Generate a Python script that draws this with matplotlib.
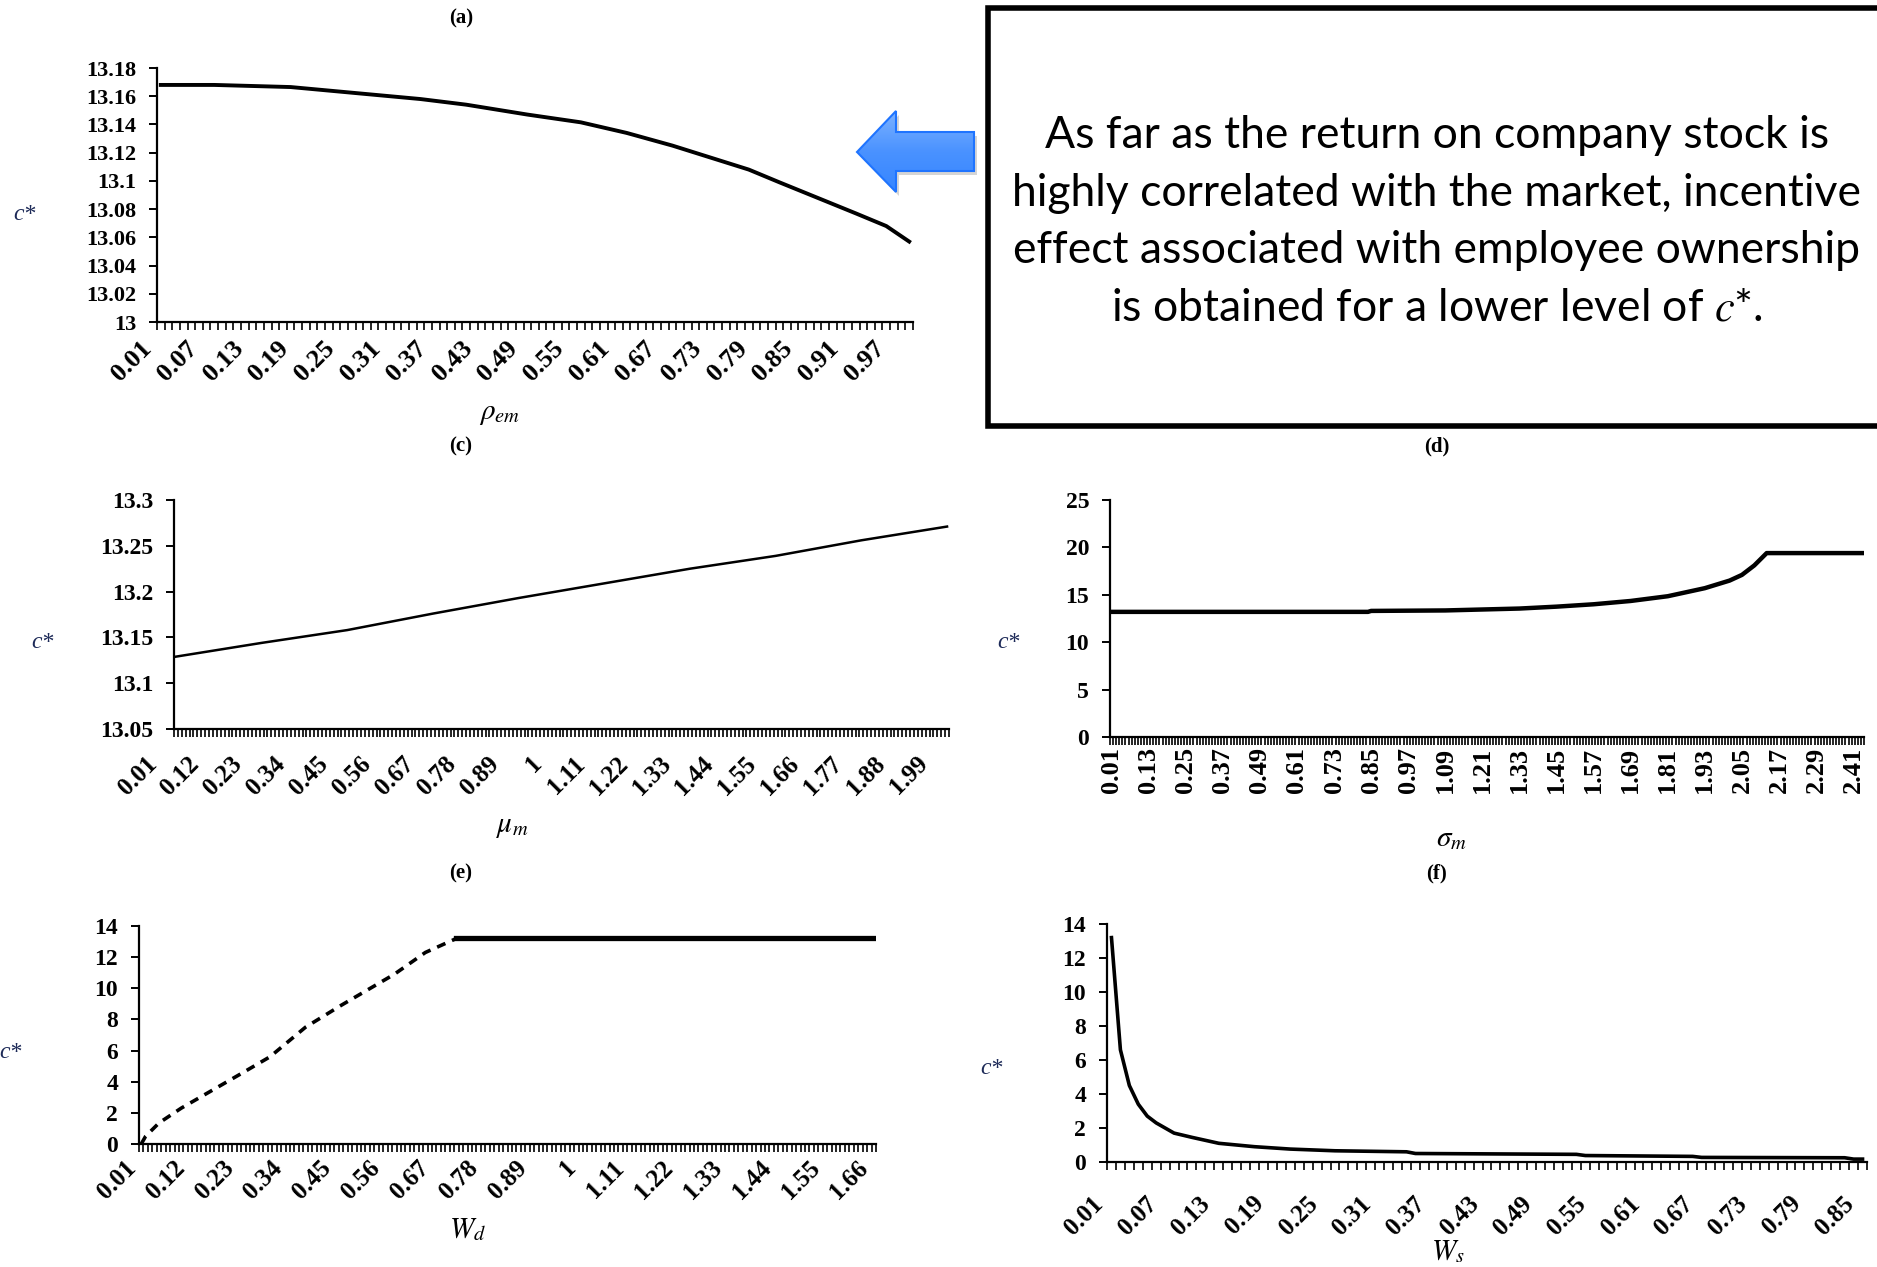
import numpy as np
import matplotlib
matplotlib.use('Agg')
import matplotlib.pyplot as plt
import matplotlib.transforms as mtransforms
from matplotlib.patches import Polygon, Rectangle
from matplotlib.colors import LinearSegmentedColormap

W, H = 1877, 1267

# ── data ─────────────────────────────────────────────────────────────────────
# (a) c* against rho_em
rho_cats = np.round(np.arange(1, 100) * 0.01, 2)
rho_pts = [0.01, 0.08, 0.18, 0.27, 0.35, 0.41, 0.49, 0.56, 0.62, 0.68, 0.73,
           0.78, 0.82, 0.87, 0.92, 0.96, 0.99]
rho_c = [13.168, 13.168, 13.1665, 13.162, 13.158, 13.154, 13.147, 13.1415,
         13.134, 13.125, 13.1165, 13.108, 13.099, 13.088, 13.077, 13.068, 13.057]

# (c) c* against mu_m
mu_cats = np.round(np.arange(1, 200) * 0.01, 2)
mu_pts = [0.01, 0.23, 0.45, 0.67, 0.89, 1.00, 1.33, 1.55, 1.77, 1.99]
mu_c = [13.129, 13.144, 13.158, 13.176, 13.193, 13.201, 13.225, 13.239, 13.256, 13.271]

# (d) c* against sigma_m
sig_cats = np.round(np.arange(1, 245) * 0.01, 2)
sig_pts = [0.01, 0.84, 0.85, 1.09, 1.21, 1.33, 1.45, 1.57, 1.69, 1.81, 1.93,
           2.01, 2.05, 2.09, 2.13, 2.44]
sig_c = [13.2, 13.2, 13.3, 13.35, 13.45, 13.55, 13.75, 14.0, 14.35, 14.85, 15.7,
         16.5, 17.1, 18.1, 19.4, 19.4]

# (e) c* against W_d  (dashed part, then flat part)
wd_cats = np.round(np.arange(1, 167) * 0.01, 2)
wd_pts_dash = [0.01, 0.02, 0.05, 0.10, 0.24, 0.30, 0.38, 0.46, 0.52, 0.58, 0.65, 0.72]
wd_c_dash = [0.0, 0.5, 1.35, 2.3, 4.6, 5.6, 7.5, 8.9, 9.9, 10.9, 12.3, 13.2]
wd_pts_flat = [0.72, 1.66]
wd_c_flat = [13.2, 13.2]

# (f) c* against W_s
ws_cats = np.round(np.arange(1, 86) * 0.01, 2)
ws_pts = [0.01, 0.02, 0.03, 0.04, 0.05, 0.06, 0.08, 0.10, 0.13, 0.17, 0.21,
          0.26, 0.34, 0.35, 0.53, 0.54, 0.66, 0.67, 0.83, 0.84, 0.85]
ws_c = [13.2, 6.6, 4.5, 3.4, 2.7, 2.3, 1.7, 1.45, 1.1, 0.9, 0.76,
        0.66, 0.6, 0.5, 0.45, 0.38, 0.33, 0.27, 0.25, 0.17, 0.17]

plt.rcParams['mathtext.fontset'] = 'stix'
SERIF = 'Liberation Serif'

fig = plt.figure(figsize=(W / 100, H / 100), dpi=100)
fig.patch.set_facecolor('white')


def idx(cats, pts):
    return np.rint((np.asarray(pts) - cats[0]) / 0.01)


def panel(box, cats, ylim, yticks, ylabels, every, rot, off, yfs, xfs):
    l, t, r, b = box
    ax = fig.add_axes([l / W, 1 - b / H, (r - l) / W, (b - t) / H])
    ax.patch.set_visible(False)
    n = len(cats)
    ax.set_xlim(-0.5, n - 0.5)
    ax.set_ylim(*ylim)
    for s in ('top', 'right'):
        ax.spines[s].set_visible(False)
    for s in ('left', 'bottom'):
        ax.spines[s].set_linewidth(1.6)
    ax.set_yticks(yticks)
    ax.set_yticklabels(ylabels, fontsize=yfs, fontweight='bold', family=SERIF)
    ax.tick_params(axis='y', length=6, width=1.4, pad=9)
    ax.set_xticks(np.arange(n + 1) - 0.5, minor=True)
    ax.tick_params(axis='x', which='minor', length=6, width=1.2, direction='out')
    major = np.arange(0, n, every)
    ax.set_xticks(major)
    ax.set_xticklabels([f"{v:g}" for v in cats[major]], fontsize=xfs,
                       fontweight='bold', family=SERIF, rotation=rot,
                       rotation_mode='anchor', ha='right', va='center')
    ax.tick_params(axis='x', which='major', length=0, pad=0)
    shift = mtransforms.ScaledTranslation(off[0] / 100, -off[1] / 100, fig.dpi_scale_trans)
    for lbl in ax.get_xticklabels():
        lbl.set_transform(lbl.get_transform() + shift)
    return ax


# (a)
ax = panel((157, 68, 913, 322), rho_cats, (13, 13.18),
           np.arange(13, 13.181, 0.02),
           ['13', '13.02', '13.04', '13.06', '13.08', '13.1', '13.12', '13.14', '13.16', '13.18'],
           6, 45, (-13, 23), yfs=16, xfs=19)
ax.plot(idx(rho_cats, rho_pts), rho_c, color='black', lw=2.8)

# (c)
ax = panel((174, 500, 949, 729), mu_cats, (13.05, 13.3),
           [13.05, 13.1, 13.15, 13.2, 13.25, 13.3],
           ['13.05', '13.1', '13.15', '13.2', '13.25', '13.3'],
           11, 45, (-23, 31), yfs=17, xfs=18)
ax.plot(idx(mu_cats, mu_pts), mu_c, color='black', lw=1.8)

# (d)
ax = panel((1110, 500, 1864, 737), sig_cats, (0, 25),
           [0, 5, 10, 15, 20, 25], ['0', '5', '10', '15', '20', '25'],
           12, 90, (0, 10), yfs=17, xfs=19)
ax.plot(idx(sig_cats, sig_pts), sig_c, color='black', lw=3.2)

# (e)
ax = panel((139, 926, 876, 1144), wd_cats, (0, 14),
           np.arange(0, 15, 2), [str(v) for v in range(0, 15, 2)],
           11, 45, (-9, 20), yfs=17, xfs=18)
ax.plot(idx(wd_cats, wd_pts_dash), wd_c_dash, color='black', lw=2.6, dashes=(2.5, 2))
ax.plot(idx(wd_cats, wd_pts_flat), wd_c_flat, color='black', lw=3.8)

# (f)
ax = panel((1107, 924, 1867, 1162), ws_cats, (0, 14),
           np.arange(0, 15, 2), [str(v) for v in range(0, 15, 2)],
           6, 45, (-12, 38), yfs=17, xfs=18)
ax.plot(idx(ws_cats, ws_pts), ws_c, color='black', lw=2.6)

# overlay in pixel coordinates for annotations (drawn on top)
bg = fig.add_axes([0, 0, 1, 1])
bg.patch.set_visible(False)
bg.axis('off')

# ── titles, axis labels ──────────────────────────────────────────────────────
for x, y, s in [(461, 18, '(a)'), (461, 446, '(c)'), (1437, 446, '(d)'),
                (461, 873, '(e)'), (1437, 873, '(f)')]:
    bg.text(x, y, s, ha='center', va='center', fontsize=15, fontweight='bold', family=SERIF)

for x, y in [(24, 215), (42, 643), (1008, 643), (10, 1053), (991, 1068)]:
    bg.text(x, y, 'c*', ha='center', va='center', fontsize=17, style='italic',
            family=SERIF, color='#1d2a58')

for x, y, s in [(500, 413, r'$\rho_{em}$'), (512, 826, r'$\mu_m$'), (1451, 838, r'$\sigma_m$'),
                (467, 1229, r'$W_d$'), (1448, 1251, r'$W_s$')]:
    bg.text(x, y, s, ha='center', va='center', fontsize=21)

# ── callout box and arrow ────────────────────────────────────────────────────
bg.add_patch(Rectangle((988, 8), 1000, 418, facecolor='white', edgecolor='black', lw=4))
bg.text(1437, 222,
        'As far as the return on company stock is\n'
        'highly correlated with the market, incentive\n'
        'effect associated with employee ownership\n'
        r'is obtained for a lower level of $\mathit{c}$*.',
        ha='center', va='center', fontsize=32, family='Lato', linespacing=1.5)

arrow = [(857, 152), (896, 111), (896, 132), (974, 132), (974, 171), (896, 171), (896, 192)]
shadow = Polygon([(x + 3, y + 4) for x, y in arrow], closed=True, facecolor='#888888',
                 edgecolor='none', alpha=0.35)
bg.add_patch(shadow)
poly = Polygon(arrow, closed=True, facecolor='none', edgecolor='#1f74ff', lw=1.5, zorder=3)
bg.add_patch(poly)
grad = np.linspace(0, 1, 100).reshape(-1, 1)
cmap = LinearSegmentedColormap.from_list('blu', ['#7db3ff', '#4a92ff', '#3585ff'])
im = bg.imshow(grad, cmap=cmap, extent=(856, 976, 193, 110), aspect='auto',
               origin='upper', zorder=2)
im.set_clip_path(poly)
bg.set_xlim(0, W)
bg.set_ylim(H, 0)

fig.savefig('out.png', dpi=100, facecolor='white')
